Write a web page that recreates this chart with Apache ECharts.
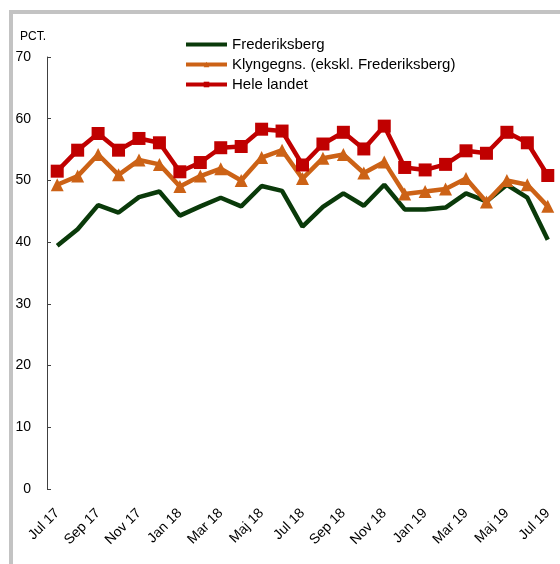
<!DOCTYPE html>
<html>
<head>
<meta charset="utf-8">
<script src="https://cdn.jsdelivr.net/npm/echarts@6/dist/echarts.min.js"></script>
<style>
  html, body { margin: 0; padding: 0; background: #fff; overflow: hidden; }
  #ramme { position: absolute; left: 9px; top: 10px; width: 600px; height: 600px; border: 4px solid #c3c3c3; }
  #chart { position: absolute; left: 0; top: 0; width: 560px; height: 564px; }
</style>
</head>
<body>
<div id="ramme"></div>
<div id="chart"></div>
<script>
// maaneder jul 17 - jul 19
const maaneder = ['Jul 17','Aug 17','Sep 17','Okt 17','Nov 17','Dec 17','Jan 18','Feb 18','Mar 18','Apr 18','Maj 18','Jun 18',
  'Jul 18','Aug 18','Sep 18','Okt 18','Nov 18','Dec 18','Jan 19','Feb 19','Mar 19','Apr 19','Maj 19','Jun 19','Jul 19'];
const frederiksberg = [39.4, 42.1, 46.0, 44.8, 47.3, 48.2, 44.3, 45.8, 47.2, 45.8, 49.1, 48.3,
  42.5, 45.7, 47.9, 45.9, 49.3, 45.3, 45.3, 45.6, 47.9, 46.6, 49.3, 47.2, 40.4];
const klynge = [49.3, 50.7, 54.2, 50.9, 53.3, 52.6, 49.0, 50.7, 51.9, 50.0, 53.7, 54.9,
  50.3, 53.6, 54.2, 51.2, 53.0, 47.8, 48.2, 48.6, 50.3, 46.5, 50.0, 49.3, 45.8];
const heleLandet = [51.5, 54.9, 57.6, 54.9, 56.8, 56.1, 51.4, 52.9, 55.3, 55.5, 58.3, 58.0,
  52.5, 55.9, 57.8, 55.1, 58.8, 52.1, 51.7, 52.6, 54.8, 54.4, 57.8, 56.1, 50.8];
const navne = ['Frederiksberg', 'Klyngegns. (ekskl. Frederiksberg)', 'Hele landet'];

const chart = echarts.init(document.getElementById('chart'));
const font = 'Liberation Sans, Arial, sans-serif';

chart.setOption({
  backgroundColor: 'transparent',
  animation: false,
  textStyle: { fontFamily: font },
  grid: { left: 47, right: 2, top: 57, bottom: 75 },
  legend: {
    orient: 'vertical',
    left: 179,
    top: 32,
    itemWidth: 41,
    itemHeight: 7,
    itemGap: 5,
    lineStyle: { width: 4 },
    textStyle: { fontFamily: font, fontSize: 15, color: '#000' },
    data: [
      // ingen markoer paa den groenne linje
      { name: navne[0], itemStyle: { opacity: 0 } },
      navne[1],
      navne[2]
    ]
  },
  graphic: [{
    type: 'text', left: 20, top: 31,
    style: { text: 'PCT.', fontFamily: font, fontSize: 12, fill: '#000' }
  }],
  xAxis: {
    type: 'category',
    data: maaneder,
    axisLine: { show: false },
    axisTick: { show: false },
    axisLabel: {
      interval: 1,
      rotate: 45,
      margin: 22,
      fontFamily: font,
      fontSize: 14,
      color: '#000'
    }
  },
  yAxis: {
    type: 'value',
    min: 0, max: 70, interval: 10,
    splitLine: { show: false },
    axisLine: { show: true, lineStyle: { color: '#404040', width: 1 } },
    axisTick: { show: true, inside: true, length: 4, lineStyle: { color: '#404040' } },
    axisLabel: { margin: 16, fontFamily: font, fontSize: 14, color: '#000' }
  },
  series: [
    {
      name: navne[0], type: 'line', data: frederiksberg,
      symbol: 'none',
      color: '#0a3a0a',
      lineStyle: { width: 4.5, color: '#0a3a0a' }
    },
    {
      name: navne[1], type: 'line', data: klynge,
      symbol: 'triangle', symbolSize: 13,
      color: '#cc6216',
      itemStyle: { color: '#cc6216' },
      lineStyle: { width: 4.5, color: '#cc6216' }
    },
    {
      name: navne[2], type: 'line', data: heleLandet,
      symbol: 'rect', symbolSize: 13,
      color: '#c00000',
      itemStyle: { color: '#c00000' },
      lineStyle: { width: 4.5, color: '#c00000' }
    }
  ]
});
</script>
</body>
</html>
